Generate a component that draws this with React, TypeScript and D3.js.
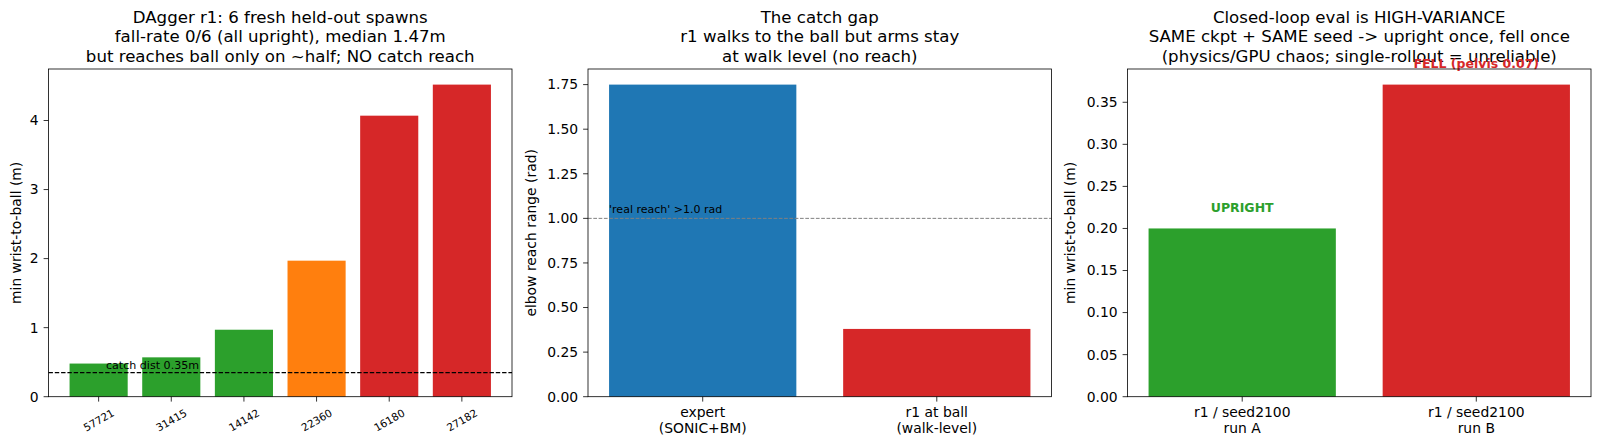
import React from 'react';
import * as d3 from 'd3';

// panel 1: held-out spawns
const spawnSeeds = ['57721', '31415', '14142', '22360', '16180', '27182'];
const spawnMinDist = [0.48, 0.57, 0.97, 1.97, 4.07, 4.52];
const spawnColors = ['#2ca02c', '#2ca02c', '#2ca02c', '#ff7f0e', '#d62728', '#d62728'];
const spawnTicks = [0, 1, 2, 3, 4];
const catchDist = 0.35;

// panel 2: catch gap
const reachGroups = ['expert\n(SONIC+BM)', 'r1 at ball\n(walk-level)'];
const reachRange = [1.75, 0.38];
const reachColors = ['#1f77b4', '#d62728'];
const reachTicks = [0, 0.25, 0.5, 0.75, 1.0, 1.25, 1.5, 1.75];
const realReach = 1.0;

// panel 3: same seed, two rollouts
const rolloutRuns = ['r1 / seed2100\nrun A', 'r1 / seed2100\nrun B'];
const rolloutMinDist = [0.2, 0.371];
const rolloutColors = ['#2ca02c', '#d62728'];
const rolloutNotes = ['UPRIGHT', 'FELL (pelvis 0.07)'];
const rolloutTicks = [0, 0.05, 0.1, 0.15, 0.2, 0.25, 0.3, 0.35];

const W = 1600;
const H = 446;
const top = 69;
const bottom = 396.7;
const panelW = 463.5;
const FONT = 'DejaVu Sans, sans-serif';
const TICK = 4.9;
const PAD = 4.9;

type PanelProps = {
  left: number;
  title: string[];
  cats: string[];
  values: number[];
  colors: string[];
  ticks: number[];
  fmt: (v: number) => string;
  ylabel: string;
  rotate?: boolean;
  extra?: (x: d3.ScaleLinear<number, number>, y: d3.ScaleLinear<number, number>) => React.ReactNode;
};

function Panel({ left, title, cats, values, colors, ticks, fmt, ylabel, rotate, extra }: PanelProps) {
  const n = cats.length;
  const span = n - 1 + 0.8;
  const x = d3.scaleLinear()
    .domain([-0.4 - 0.05 * span, n - 1 + 0.4 + 0.05 * span])
    .range([left, left + panelW]);
  const y = d3.scaleLinear()
    .domain([0, d3.max(values)! * 1.05])
    .range([bottom, top]);
  const bw = x(0.8) - x(0);
  const labelW = d3.max(ticks.map(t => fmt(t).length * 0.6))! * 13.9;
  const ylabelX = left - TICK - PAD - labelW - 5.6 - 3.3;
  const cx = left + panelW / 2;

  return (
    <g>
      {title.map((t, i) => (
        <text key={i} x={cx} y={22.7 + i * 19.5} textAnchor="middle" fontSize={16.6} fill="#000">{t}</text>
      ))}
      {values.map((v, i) => (
        <rect key={i} x={x(i) - bw / 2} y={y(v)} width={bw} height={y(0) - y(v)} fill={colors[i]} />
      ))}
      {extra && extra(x, y)}
      <rect x={left} y={top} width={panelW} height={bottom - top} fill="none" stroke="#000" strokeWidth={0.8} />
      {ticks.map(t => (
        <g key={t}>
          <line x1={left - TICK} x2={left} y1={y(t)} y2={y(t)} stroke="#000" strokeWidth={0.8} />
          <text x={left - TICK - PAD} y={y(t)} dy="0.35em" textAnchor="end" fontSize={13.9}>{fmt(t)}</text>
        </g>
      ))}
      {cats.map((c, i) => (
        <g key={c}>
          <line x1={x(i)} x2={x(i)} y1={bottom} y2={bottom + TICK} stroke="#000" strokeWidth={0.8} />
          {rotate ? (
            <text x={x(i)} y={420} textAnchor="middle" dominantBaseline="central" fontSize={10.5}
              transform={`rotate(-30, ${x(i)}, 420)`}>{c}</text>
          ) : (
            c.split('\n').map((line, j) => (
              <text key={j} x={x(i)} y={417 + j * 16.3} textAnchor="middle" fontSize={13.9}>{line}</text>
            ))
          )}
        </g>
      ))}
      <text transform={`translate(${ylabelX},${(top + bottom) / 2}) rotate(-90)`} textAnchor="middle" fontSize={13.9}>{ylabel}</text>
    </g>
  );
}

export default function App() {
  return (
    <svg width={W} height={H} viewBox={`0 0 ${W} ${H}`} fontFamily={FONT}
      style={{ position: 'absolute', left: 0, top: 0, background: '#fff' }}>
      <rect width={W} height={H} fill="#fff" />
      <Panel
        left={48.5}
        title={['DAgger r1: 6 fresh held-out spawns', 'fall-rate 0/6 (all upright), median 1.47m', 'but reaches ball only on ~half; NO catch reach']}
        cats={spawnSeeds}
        values={spawnMinDist}
        colors={spawnColors}
        ticks={spawnTicks}
        fmt={d3.format('d')}
        ylabel="min wrist-to-ball (m)"
        rotate
        extra={(x, y) => (
          <g>
            <line x1={x.range()[0]} x2={x.range()[1]} y1={y(catchDist)} y2={y(catchDist)}
              stroke="#000" strokeWidth={1.2} strokeDasharray="4.4,1.9" />
            <text x={x(0.1)} y={y(0.4)} fontSize={11.1}>catch dist 0.35m</text>
          </g>
        )}
      />
      <Panel
        left={588}
        title={['The catch gap', 'r1 walks to the ball but arms stay', 'at walk level (no reach)']}
        cats={reachGroups}
        values={reachRange}
        colors={reachColors}
        ticks={reachTicks}
        fmt={d3.format('.2f')}
        ylabel="elbow reach range (rad)"
        extra={(x, y) => (
          <g>
            <line x1={x.range()[0]} x2={x.range()[1]} y1={y(realReach)} y2={y(realReach)}
              stroke="#808080" strokeWidth={1} strokeDasharray="3.7,1.6" />
            <text x={x(-0.4)} y={y(1.03)} fontSize={11}>'real reach' &gt;1.0 rad</text>
          </g>
        )}
      />
      <Panel
        left={1127.5}
        title={['Closed-loop eval is HIGH-VARIANCE', 'SAME ckpt + SAME seed -> upright once, fell once', '(physics/GPU chaos; single-rollout = unreliable)']}
        cats={rolloutRuns}
        values={rolloutMinDist}
        colors={rolloutColors}
        ticks={rolloutTicks}
        fmt={d3.format('.2f')}
        ylabel="min wrist-to-ball (m)"
        extra={(x, y) => (
          <g>
            {rolloutNotes.map((t, i) => (
              <text key={t} x={x(i)} y={y(rolloutMinDist[i] + 0.02)} textAnchor="middle" fontSize={12.5}
                fontWeight="bold" fill={rolloutColors[i]}>{t}</text>
            ))}
          </g>
        )}
      />
    </svg>
  );
}
